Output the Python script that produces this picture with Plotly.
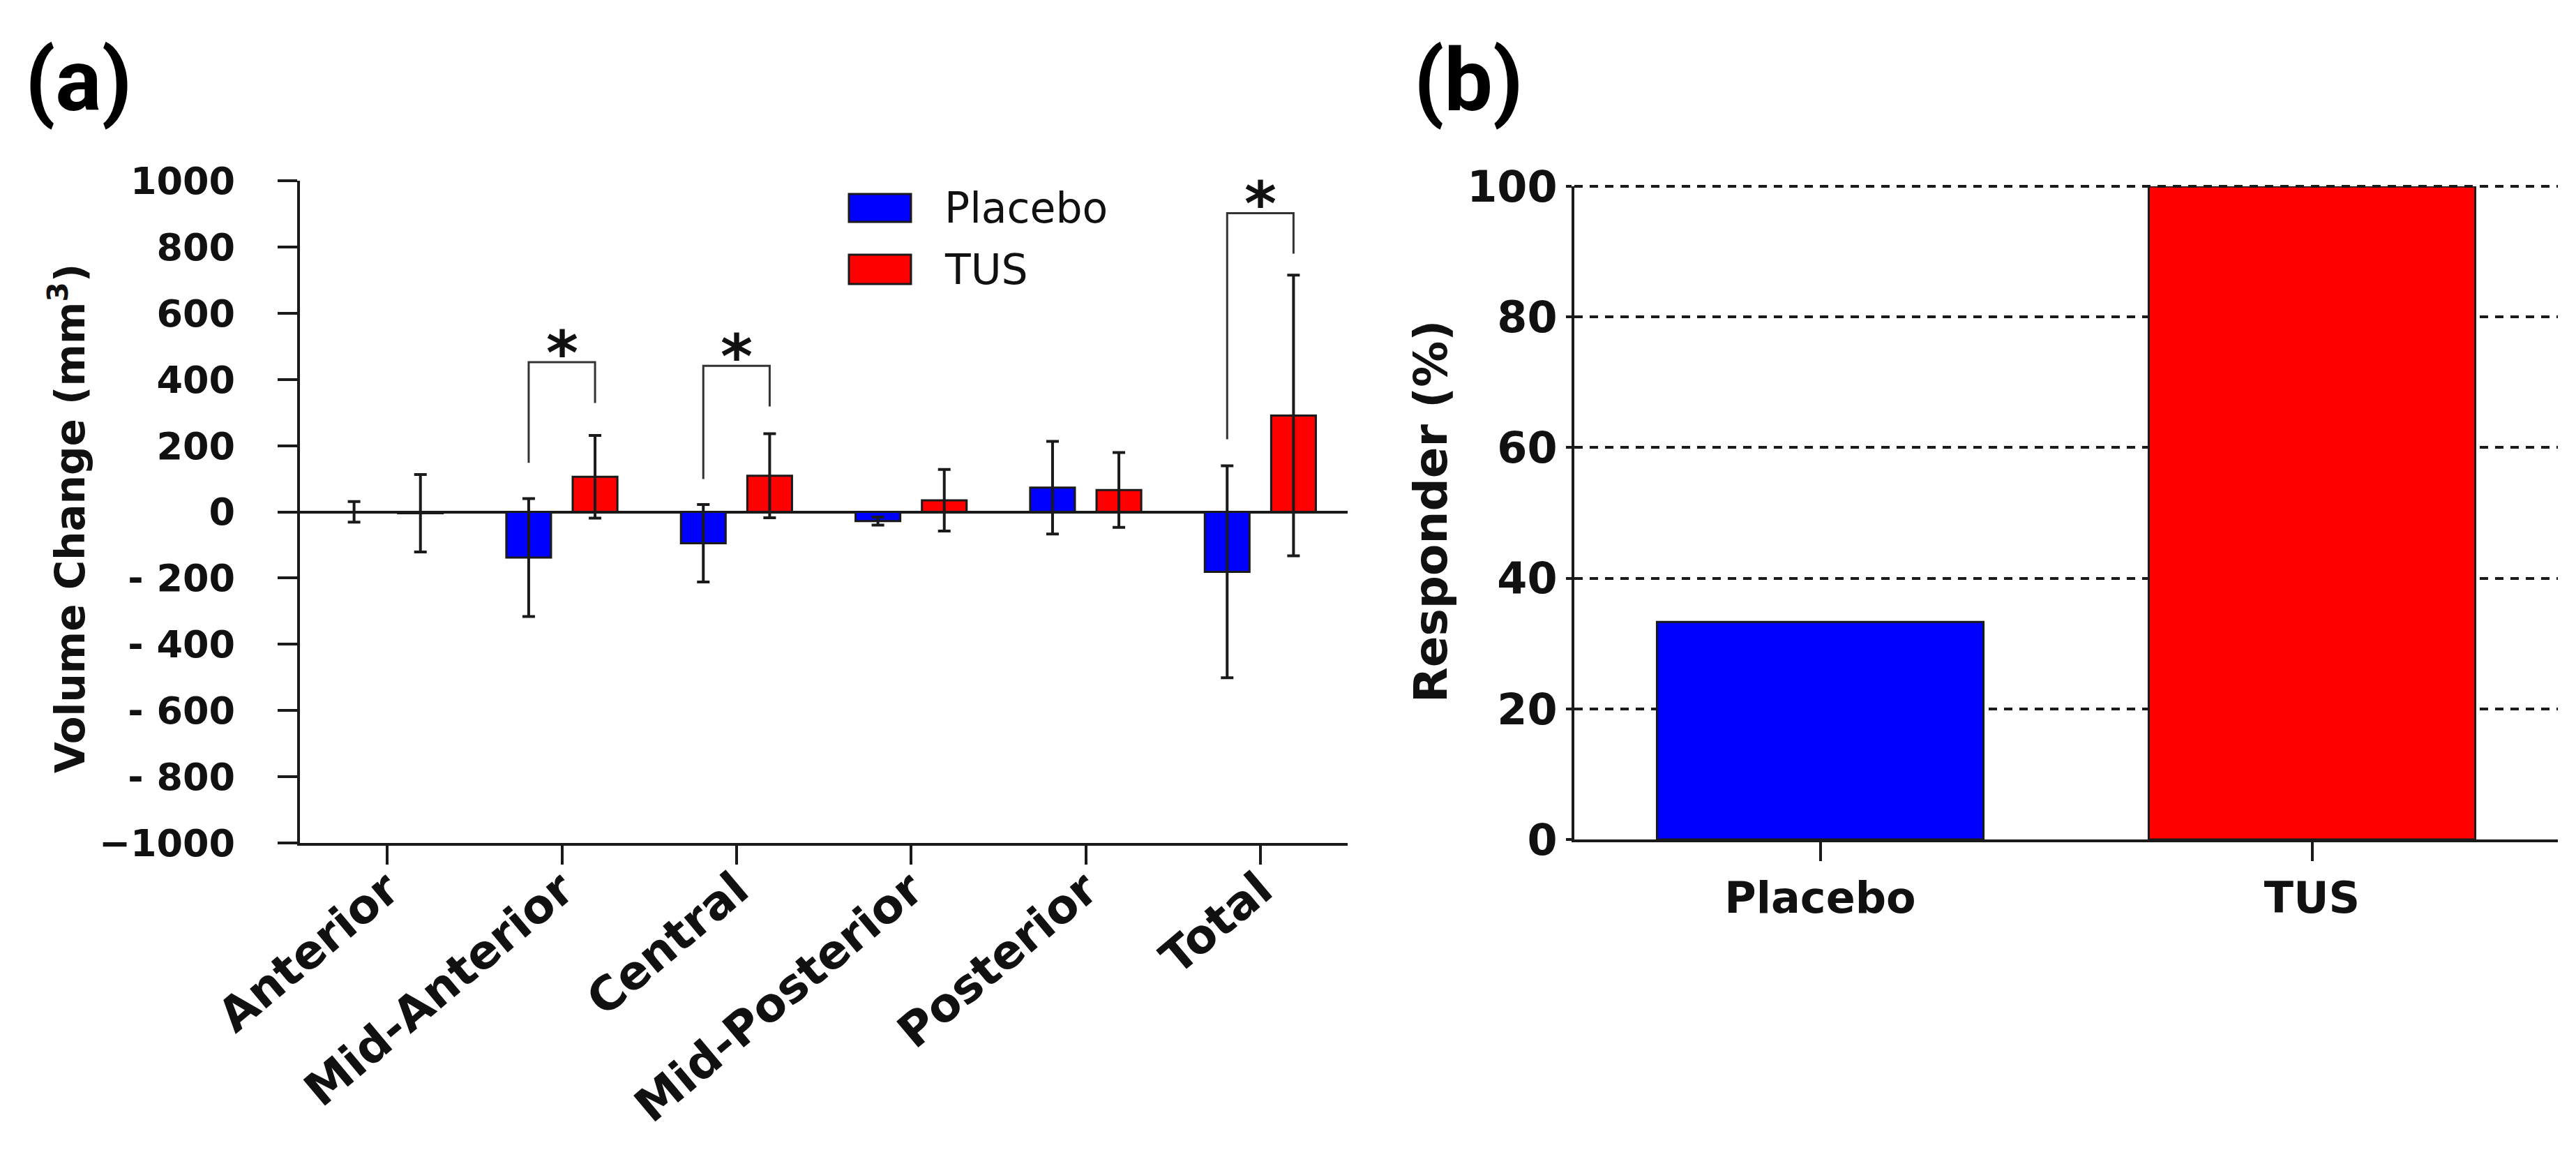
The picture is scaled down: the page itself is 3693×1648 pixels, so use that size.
import plotly.graph_objects as go

# ---------------- data ----------------
categories = ["Anterior", "Mid-Anterior", "Central", "Mid-Posterior", "Posterior", "Total"]
placebo_mean = [0, -138, -95, -28, 73, -181]
placebo_err = [31, 178, 117, 12, 140, 320]
tus_mean = [-4, 106, 109, 35, 66, 291]
tus_err = [117, 125, 127, 93, 113, 424]

y_ticks = [-1000, -800, -600, -400, -200, 0, 200, 400, 600, 800, 1000]
y_ticktext = ["\u22121000", "- 800", "- 600", "- 400", "- 200", "0", "200", "400", "600", "800", "1000"]

# significance brackets (category, left leg bottom, top, right leg bottom)
sig_cats = ["Mid-Anterior", "Central", "Total"]
sig_left_bottom = [148, 99, 219]
sig_top = [452, 441, 902]
sig_right_bottom = [329, 318, 780]

groups = ["Placebo", "TUS"]
responder_pct = [33.3, 100]
responder_ticks = [0, 20, 40, 60, 80, 100]

# ---------------- style ----------------
W, H = 3693, 1648
BLUE, RED, INK = "#0000FF", "#FF0000", "#1a1a1a"
FONT = "DejaVu Sans"
bar_w = 0.256
half_sep = 0.19

def px(x):
    return x / W

def py(y):
    return 1 - y / H

fig = go.Figure()

fig.add_trace(go.Bar(
    x=list(range(len(categories))), y=placebo_mean, name="Placebo",
    width=bar_w, offset=-half_sep - bar_w / 2,
    marker=dict(color=BLUE, line=dict(color=INK, width=3)),
    error_y=dict(type="data", array=placebo_err, visible=True, color=INK, thickness=4, width=9),
    xaxis="x", yaxis="y", showlegend=False,
))
fig.add_trace(go.Bar(
    x=list(range(len(categories))), y=tus_mean, name="TUS",
    width=bar_w, offset=half_sep - bar_w / 2,
    marker=dict(color=RED, line=dict(color=INK, width=3)),
    error_y=dict(type="data", array=tus_err, visible=True, color=INK, thickness=4, width=9),
    xaxis="x", yaxis="y", showlegend=False,
))

fig.add_trace(go.Bar(
    x=list(range(len(groups))), y=responder_pct,
    width=0.664, marker=dict(color=[BLUE, RED], line=dict(color=INK, width=3)),
    xaxis="x2", yaxis="y2", showlegend=False,
))

shapes = []
annotations = []

# brackets + asterisks
for cat, lb, top, rb in zip(sig_cats, sig_left_bottom, sig_top, sig_right_bottom):
    i = categories.index(cat)
    x0, x1 = i - half_sep, i + half_sep
    shapes.append(dict(type="path", xref="x", yref="y",
                       path=f"M {x0},{lb} L {x0},{top} L {x1},{top} L {x1},{rb}",
                       line=dict(color="#333333", width=3)))
    annotations.append(dict(x=i, y=top, xref="x", yref="y", text="*", showarrow=False,
                            yanchor="middle", yshift=14,
                            font=dict(family=FONT, size=88, color="#111111", weight=700)))

# top dashed gridline of panel (b) (plotly clips gridlines at the range edge)
shapes.append(dict(type="line", xref="paper", yref="paper", x0=px(2257), x1=px(3667),
                   y0=py(267), y1=py(267),
                   line=dict(color=INK, width=4, dash="12px,10px"), layer="above"))

# manual legend
leg_items = [("Placebo", BLUE, 278, 318), ("TUS", RED, 365, 407)]
for label, col, y0, y1 in leg_items:
    shapes.append(dict(type="rect", xref="paper", yref="paper",
                       x0=px(1217), x1=px(1306), y0=py(y1), y1=py(y0),
                       fillcolor=col, line=dict(color=INK, width=3)))
    annotations.append(dict(x=px(1352), y=py((y0 + y1) / 2), xref="paper", yref="paper",
                            text=label, showarrow=False, xanchor="left", yanchor="middle",
                            font=dict(family=FONT, size=60, color="#111111")))

# axis titles
annotations.append(dict(x=px(97), y=py(743), xref="paper", yref="paper",
                        text="Volume Change (mm<sup>3</sup>)", textangle=-90, showarrow=False,
                        xanchor="center", yanchor="middle",
                        font=dict(family=FONT, size=58, color="#111111", weight=700)))
annotations.append(dict(x=px(2051), y=py(733), xref="paper", yref="paper",
                        text="Responder (%)", textangle=-90, showarrow=False,
                        xanchor="center", yanchor="middle",
                        font=dict(family=FONT, size=66, color="#111111", weight=700)))

# panel labels
for lab, xc in [("(a)", 112), ("(b)", 2105)]:
    annotations.append(dict(x=px(xc), y=py(116), xref="paper", yref="paper", text=lab,
                            showarrow=False, xanchor="center", yanchor="middle",
                            font=dict(family="Roboto", size=124, color="#000000", weight=700)))

tickfont_a = dict(family=FONT, size=54, color="#111111", weight=700)
catfont_a = dict(family=FONT, size=67, color="#111111", weight=700)
tickfont_b = dict(family=FONT, size=62, color="#111111", weight=700)

fig.update_layout(
    width=W, height=H,
    margin=dict(l=0, r=0, t=0, b=0, autoexpand=False),
    paper_bgcolor="white", plot_bgcolor="white",
    barmode="overlay",
    shapes=shapes, annotations=annotations,
    xaxis=dict(domain=[px(430), px(1932)], range=[-0.5, 5.5], anchor="y", automargin=False,
               tickmode="array", tickvals=list(range(len(categories))), ticktext=categories,
               tickangle=-40, ticks="outside", ticklen=27, tickwidth=4, tickcolor=INK,
               showline=True, linewidth=4, linecolor=INK, showgrid=False, zeroline=False,
               ticklabelstandoff=-30, tickfont=catfont_a),
    yaxis=dict(domain=[py(1208), py(259)], range=[-1000, 1000], anchor="x", automargin=False,
               tickmode="array", tickvals=y_ticks, ticktext=y_ticktext,
               ticks="outside", ticklen=28, tickwidth=4, tickcolor=INK,
               showline=True, linewidth=4, linecolor=INK, showgrid=False,
               zeroline=True, zerolinewidth=4, zerolinecolor=INK,
               ticklabelstandoff=50, tickfont=tickfont_a),
    xaxis2=dict(domain=[px(2257), px(3667)], range=[-0.5, 1.5], anchor="y2", automargin=False,
                tickmode="array", tickvals=list(range(len(groups))), ticktext=groups,
                ticks="outside", ticklen=27, tickwidth=4, tickcolor=INK,
                showline=True, linewidth=4, linecolor=INK, showgrid=False, zeroline=False,
                tickfont=tickfont_b),
    yaxis2=dict(domain=[py(1203), py(267)], range=[0, 100], anchor="x2", automargin=False,
                tickmode="array", tickvals=responder_ticks,
                ticks="outside", ticklen=8, tickwidth=4, tickcolor=INK,
                showline=True, linewidth=4, linecolor=INK,
                showgrid=True, gridcolor=INK, gridwidth=4, griddash="12px,10px",
                zeroline=False, tickfont=tickfont_b),
)

fig.write_html("out.html")
